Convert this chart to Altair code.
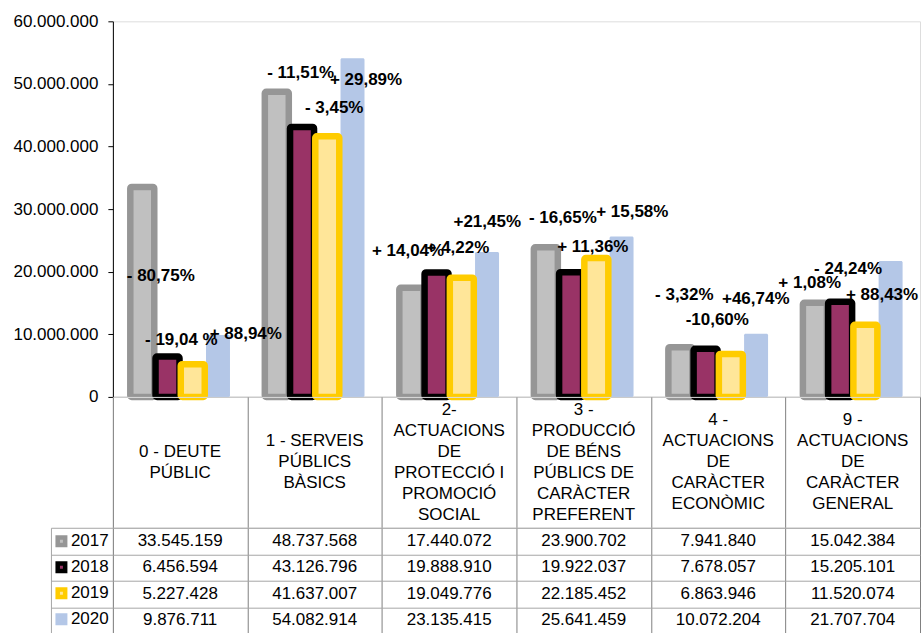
import altair as alt
import pandas as pd

# ---------------- data ----------------
categories = [
    "0 - DEUTE|PÚBLIC",
    "1 - SERVEIS|PÚBLICS|BÀSICS",
    "2-|ACTUACIONS|DE|PROTECCIÓ I|PROMOCIÓ|SOCIAL",
    "3 -|PRODUCCIÓ|DE BÉNS|PÚBLICS DE|CARÀCTER|PREFERENT",
    "4 -|ACTUACIONS|DE|CARÀCTER|ECONÒMIC",
    "9 -|ACTUACIONS|DE|CARÀCTER|GENERAL",
]
years = ["2017", "2018", "2019", "2020"]
values_2017 = [33545159, 48737568, 17440072, 23900702, 7941840, 15042384]
values_2018 = [6456594, 43126796, 19888910, 19922037, 7678057, 15205101]
values_2019 = [5227428, 41637007, 19049776, 22185452, 6863946, 11520074]
values_2020 = [9876711, 54082914, 23135415, 25641459, 10072204, 21707704]

y_ticks = [0, 10000000, 20000000, 30000000, 40000000, 50000000, 60000000]

label_text = ["- 80,75%", "- 19,04 %", "+ 88,94%",
              "- 11,51%", "+ 29,89%", "- 3,45%",
              "+ 14,04%", "+ 4,22%", "+21,45%",
              "- 16,65%", "+ 15,58%", "+ 11,36%",
              "- 3,32%", "+46,74%", "-10,60%",
              "+ 1,08%", "-  24,24%", "+ 88,43%"]
label_cat = [0, 0, 0, 1, 1, 1, 2, 2, 2, 3, 3, 3, 4, 4, 4, 5, 5, 5]
# horizontal place of each label inside its category column (0 = left edge, 1 = right edge)
label_pos = [0.356, 0.509, 0.988,
             0.396, 0.882, 0.645,
             0.194, 0.565, 0.783,
             0.345, 0.861, 0.568,
             0.248, 0.779, 0.493,
             0.180, 0.465, 0.718]
# value (y) at the centre of each label
label_val = [19300000, 9100000, 10050000,
             51700000, 50700000, 46100000,
             23300000, 23800000, 28000000,
             28600000, 29500000, 23900000,
             16300000, 15600000, 12300000,
             18200000, 20400000, 16300000]

fill_colors = ["#C0C0C0", "#993366", "#FFE699", "#B4C7E7"]
stroke_colors = ["#969696", "#000000", "#FFCC00", "#B4C7E7"]

# ---------------- tables ----------------
series = {"2017": values_2017, "2018": values_2018, "2019": values_2019, "2020": values_2020}
draw_order = ["2020", "2017", "2018", "2019"]
rows = []
for y in draw_order:
    for c, v in zip(categories, series[y]):
        rows.append({"cat": c, "year": y, "value": v})
df = pd.DataFrame(rows)

ldf = pd.DataFrame({
    "cat": [categories[i] for i in label_cat],
    "text": label_text,
    "pos": label_pos,
    "val": label_val,
})

# header lines (one row per text line, k = line index centred on 0)
hrows = []
for c in categories:
    parts = c.split("|")
    n = len(parts)
    for i, p in enumerate(parts):
        hrows.append({"cat": c, "line": p, "k": i - (n - 1) / 2})
hdf = pd.DataFrame(hrows)

FONT = "Liberation Sans"
W = 808
H = 376
HEADER = 131
ROWS_H = 106
LINE_H = 21

x_scale = alt.Scale(domain=categories, paddingInner=0, paddingOuter=0)

legend_def = alt.Legend(title=None, orient="none", legendX=-60, legendY=512,
                        symbolType="square", symbolSize=56, symbolStrokeWidth=4.5,
                        labelFont=FONT, labelFontSize=17, labelColor="#000000",
                        rowPadding=-1, labelOffset=1, padding=0)

bars = alt.Chart(df).mark_bar(strokeJoin="round", cornerRadius=1.5).encode(
    x=alt.X("cat:N", scale=x_scale, sort=categories,
            axis=alt.Axis(title=None, labels=False, ticks=False, domainColor="#000000",
                          domainWidth=1)),
    xOffset=alt.XOffset("year:N", sort=years,
                        scale=alt.Scale(domain=years, paddingInner=0.05, paddingOuter=0.69)),
    y=alt.Y("value:Q", stack=None,
            scale=alt.Scale(domain=[0, 60000000], nice=False),
            axis=alt.Axis(title=None, values=y_ticks, format=",d", grid=False,
                          labelFont=FONT, labelFontSize=17, labelColor="#000000",
                          tickSize=5, labelPadding=10, tickColor="#000000",
                          domainColor="#000000")),
    fill=alt.Fill("year:N", scale=alt.Scale(domain=years, range=fill_colors), legend=legend_def),
    stroke=alt.Stroke("year:N", scale=alt.Scale(domain=years, range=stroke_colors), legend=legend_def),
    strokeWidth=alt.condition("datum.year == '2020'", alt.value(0), alt.value(6.5)),
)

labels = alt.Chart(ldf).mark_text(font=FONT, fontSize=17, fontWeight="bold",
                                  color="#000000", baseline="middle", align="center").encode(
    x=alt.X("cat:N", scale=x_scale, sort=categories),
    xOffset=alt.XOffset("pos:Q", scale=alt.Scale(domain=[0, 1], range=[0, W / 6])),
    y=alt.Y("val:Q"),
    text="text:N",
)

top = alt.layer(bars, labels).resolve_scale(xOffset="independent").properties(width=W, height=H)

# header panel with category names
half = HEADER / 2 / LINE_H
header = alt.Chart(hdf).mark_text(font=FONT, fontSize=17, color="#000000",
                                  baseline="middle", align="center").encode(
    x=alt.X("cat:N", scale=alt.Scale(domain=categories, paddingInner=0, paddingOuter=0),
            sort=categories,
            axis=alt.Axis(title=None, labels=False, ticks=False, domain=False, grid=True,
                          gridColor="#7F7F7F", gridWidth=1, tickBand="extent")),
    y=alt.Y("k:Q", scale=alt.Scale(domain=[-half, half], reverse=True, nice=False, zero=False),
            axis=None),
    text="line:N",
).properties(width=W, height=HEADER)

table_x = alt.Scale(domain=categories, paddingInner=0, paddingOuter=0)
table_y = alt.Scale(domain=years, paddingInner=0, paddingOuter=0)

tdf = df.copy()

cells = alt.Chart(tdf).mark_text(font=FONT, fontSize=17, color="#000000").encode(
    x=alt.X("cat:N", scale=table_x, sort=categories,
            axis=alt.Axis(title=None, labels=False, ticks=False, domain=False, grid=True,
                          gridColor="#7F7F7F", gridWidth=1, tickBand="extent")),
    y=alt.Y("year:N", scale=table_y, sort=years,
            axis=alt.Axis(title=None, labels=False, domain=False, ticks=True, tickSize=62,
                          tickColor="#A6A6A6", grid=True, gridColor="#A6A6A6",
                          tickBand="extent")),
    text=alt.Text("value:Q", format=",d"),
)

border = alt.Chart(tdf).mark_point(opacity=0).encode(
    x=alt.X("cat:N", scale=table_x, sort=categories),
    y=alt.Y("year:N", scale=table_y, sort=years,
            axis=alt.Axis(title=None, orient="left", offset=62, labels=False, ticks=False,
                          grid=False, domain=True, domainColor="#A6A6A6")),
)

table = alt.layer(cells, border).resolve_axis(y="independent").properties(width=W, height=ROWS_H)

chart = alt.vconcat(top, header, table, spacing=0, bounds="flush").properties(
    padding={"left": 12, "top": 11, "right": 0, "bottom": 0}
).configure_view(stroke=None).configure(
    locale={"number": {"decimal": ",", "thousands": ".", "grouping": [3], "currency": ["", " €"]}}
)

chart.save("out.html", embed_options={"renderer": "svg", "actions": False,
                                      "formatLocale": {"decimal": ",", "thousands": ".",
                                                       "grouping": [3], "currency": ["", " €"]}})
